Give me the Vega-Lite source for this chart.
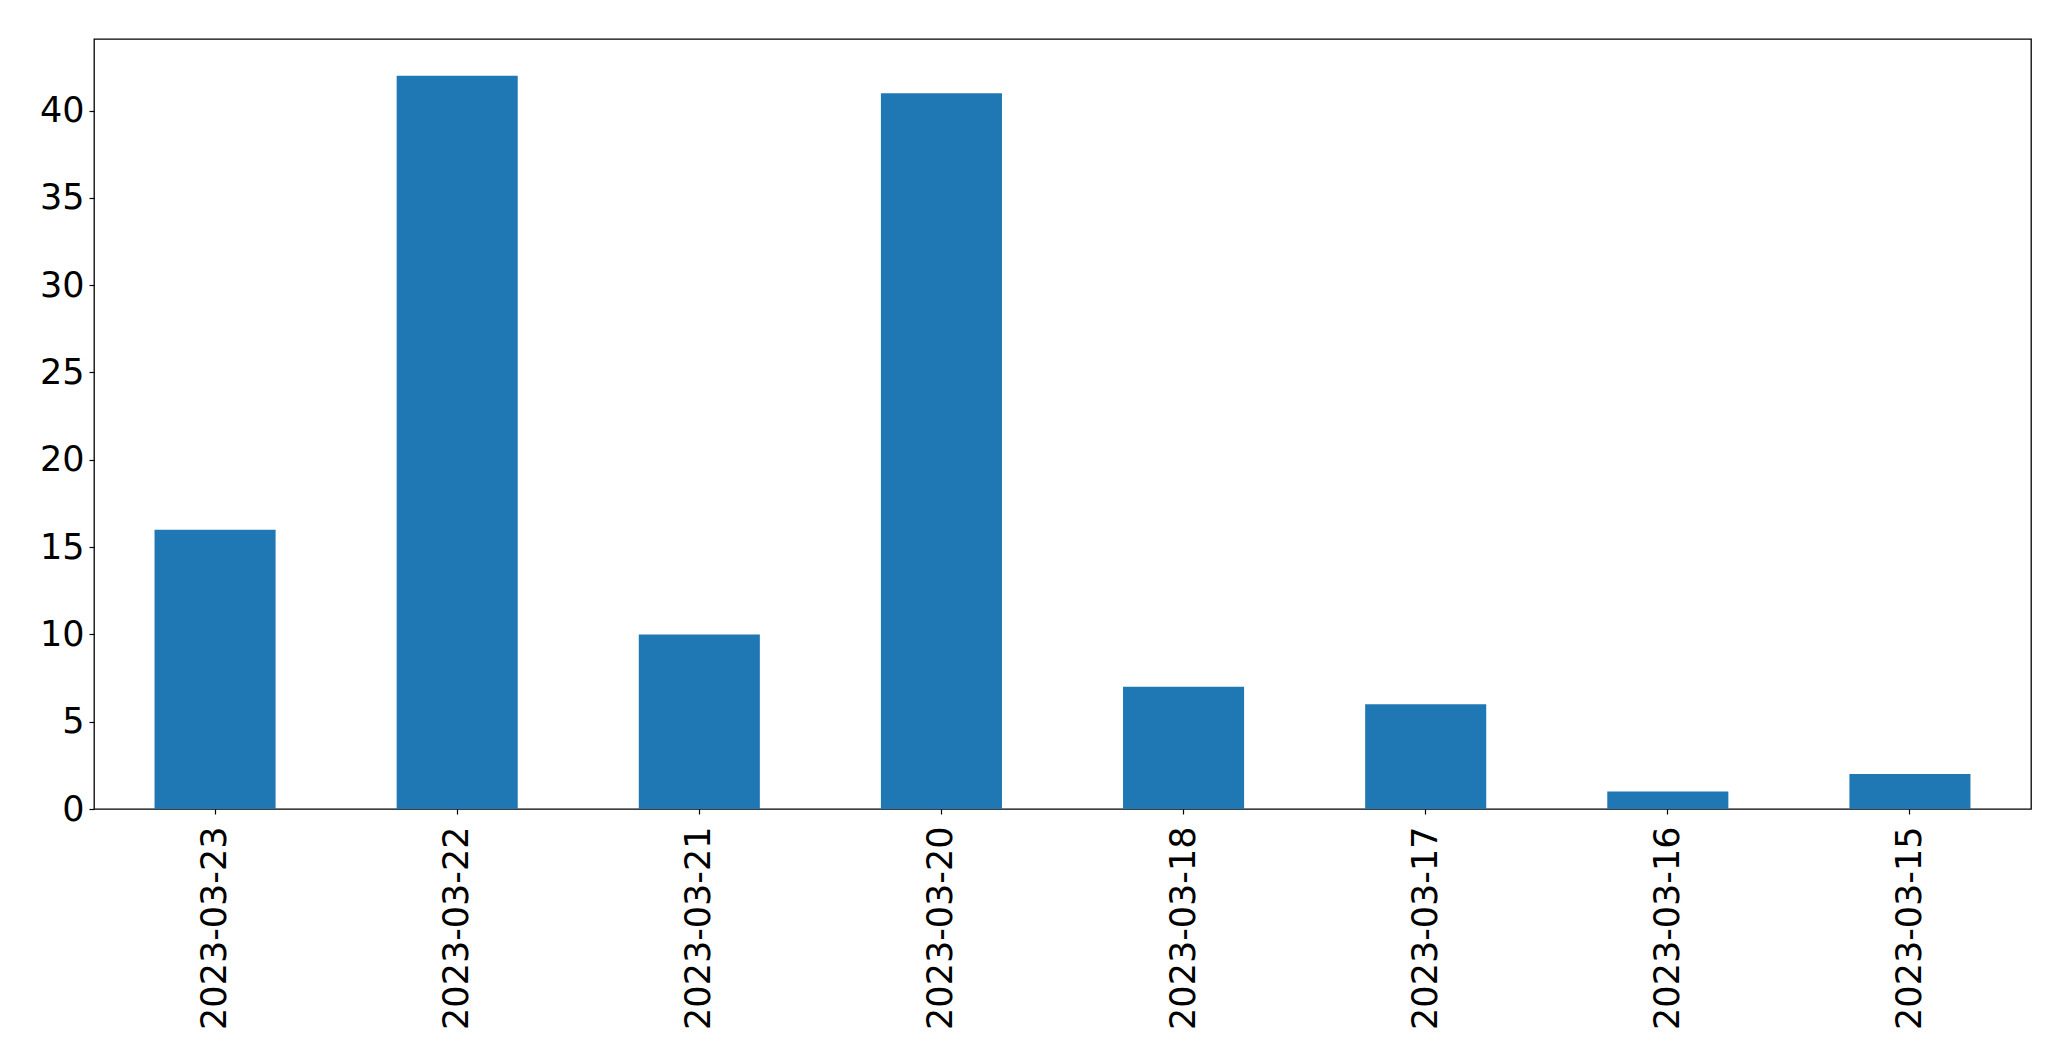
{
  "$schema": "https://vega.github.io/schema/vega-lite/v6.json",
  "width": 1937,
  "height": 770,
  "autosize": {"type": "none"},
  "padding": {"left": 94, "top": 39, "right": 40, "bottom": 252},
  "background": "white",
  "config": {
    "view": {"stroke": "black", "strokeWidth": 1.3},
    "axis": {
      "labelFont": "DejaVu Sans",
      "labelFontSize": 35,
      "labelColor": "black",
      "labelLimit": 0,
      "tickColor": "black",
      "tickSize": 5,
      "tickWidth": 1.2,
      "domain": false,
      "grid": false,
      "title": null
    }
  },
  "data": {
    "values": [
      {"date": "2023-03-23", "count": 16},
      {"date": "2023-03-22", "count": 42},
      {"date": "2023-03-21", "count": 10},
      {"date": "2023-03-20", "count": 41},
      {"date": "2023-03-18", "count": 7},
      {"date": "2023-03-17", "count": 6},
      {"date": "2023-03-16", "count": 1},
      {"date": "2023-03-15", "count": 2}
    ]
  },
  "mark": {"type": "bar", "color": "#1f77b4"},
  "encoding": {
    "x": {
      "field": "date",
      "type": "nominal",
      "sort": null,
      "scale": {"paddingInner": 0.5, "paddingOuter": 0.25},
      "axis": {"labelAngle": -90, "labelAlign": "right", "labelBaseline": "middle", "labelPadding": 12}
    },
    "y": {
      "field": "count",
      "type": "quantitative",
      "scale": {"domain": [0, 44.1], "nice": false, "zero": true},
      "axis": {"values": [0, 5, 10, 15, 20, 25, 30, 35, 40], "labelPadding": 5}
    }
  }
}
